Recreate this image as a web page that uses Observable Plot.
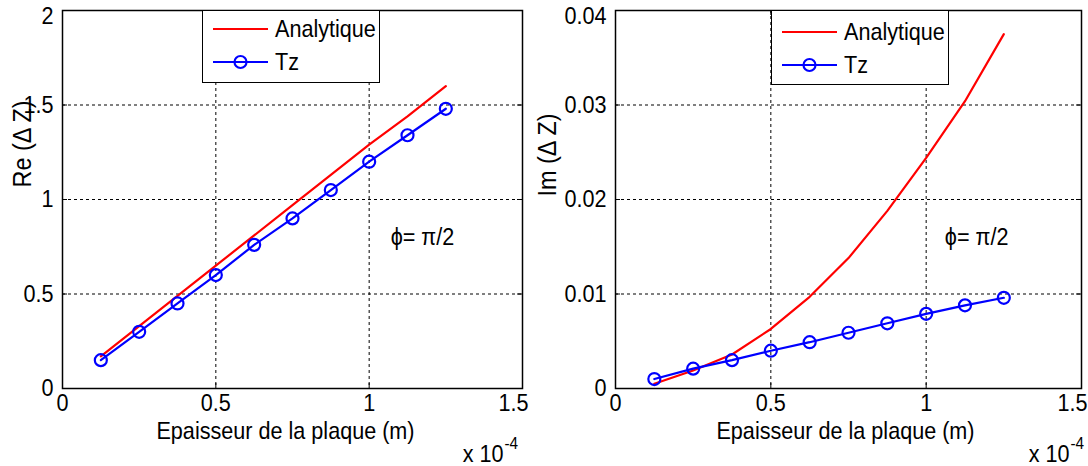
<!DOCTYPE html>
<html>
<head>
<meta charset="utf-8">
<script src="https://cdn.jsdelivr.net/npm/d3@7"></script>
<script src="https://cdn.jsdelivr.net/npm/@observablehq/plot@0.6"></script>
<style>
  html, body { margin: 0; padding: 0; background: #fff; }
  #wrap { position: relative; width: 1088px; height: 466px; overflow: hidden; display: flex; }
  #wrap svg { display: block; }
  .legend { position: absolute; background: #fff; border: 1px solid #000; box-sizing: border-box; }
</style>
</head>
<body>
<div id="wrap"></div>
<script>
// ---- data (thickness in metres) ----
const thickness = [1.25e-5, 2.5e-5, 3.75e-5, 5e-5, 6.25e-5, 7.5e-5, 8.75e-5, 1e-4, 1.125e-4, 1.25e-4];
const reAnalytique = [0.17, 0.33, 0.49, 0.65, 0.81, 0.97, 1.13, 1.29, 1.44, 1.60];
const reTz = [0.15, 0.30, 0.45, 0.60, 0.76, 0.90, 1.05, 1.20, 1.34, 1.48];
const imAnalytique = [0.0005, 0.0019, 0.0036, 0.0063, 0.0097, 0.0138, 0.0188, 0.0244, 0.0304, 0.0375];
const imTz = [0.0010, 0.0021, 0.0030, 0.0040, 0.0049, 0.0059, 0.0069, 0.0079, 0.0088, 0.0096];
const seriesNames = ["Analytique", "Tz"];
const xTicks = [0, 0.5, 1, 1.5];        // in units of 1e-4 m
const reTicks = [0, 0.5, 1, 1.5, 2];
const imTicks = [0, 0.01, 0.02, 0.03, 0.04];
const xLabel = "Epaisseur de la plaque (m)";
const xExpBase = "x 10";
const xExp = "-4";
const reLabel = "Re (Δ Z)";
const imLabel = "Im (Δ Z)";
const annotation = "ϕ= π/2";

const FONT = '"Liberation Sans", Arial, sans-serif';
const FS = 24;          // font size, horizontally condensed below
const SQUEEZE = 0.9;
const RED = "#ff0000", BLUE = "#0000ff";
const H = 466, MT = 10, MB = 78;

// compress every text horizontally around its own anchor (tall, narrow MATLAB-like glyphs)
function condense(root, k) {
  root.querySelectorAll("text").forEach(t => {
    const ax = parseFloat(t.getAttribute("x")) || 0;
    const ay = parseFloat(t.getAttribute("y")) || 0;
    const tr = t.getAttribute("transform") || "";
    t.setAttribute("transform", `${tr} translate(${ax},${ay}) scale(${k},1) translate(${-ax},${-ay})`.trim());
  });
}

function panel(o) {
  const W = 544;
  const plotW = W - o.ml - o.mr, plotH = H - MT - MB;
  const an = thickness.map((t, i) => ({x: t * 1e4, y: o.an[i]}));
  const tz = thickness.map((t, i) => ({x: t * 1e4, y: o.tz[i]}));
  const inner = (a) => a.slice(1, -1);
  const yLast = o.ticks[o.ticks.length - 1];
  const xLast = xTicks[xTicks.length - 1];
  const grid = {stroke: "black", strokeWidth: 1, strokeDasharray: "3,3"};
  const tk = {stroke: "black", strokeWidth: 1};
  const svg = Plot.plot({
    width: W, height: H,
    marginTop: MT, marginBottom: MB, marginLeft: o.ml, marginRight: o.mr,
    style: {fontFamily: FONT, fontSize: FS + "px", background: "white", color: "black", overflow: "visible"},
    x: {domain: [0, xLast]},
    y: {domain: [o.ticks[0], yLast]},
    marks: [
      Plot.ruleX(inner(xTicks), grid),
      Plot.ruleY(inner(o.ticks), grid),
      Plot.ruleX(xTicks, {...tk, insetTop: plotH - 5}),
      Plot.ruleX(xTicks, {...tk, insetBottom: plotH - 5}),
      Plot.ruleY(o.ticks, {...tk, insetRight: plotW - 5}),
      Plot.ruleY(o.ticks, {...tk, insetLeft: plotW - 5}),
      Plot.frame({stroke: "black", strokeWidth: 1.5}),
      Plot.axisX({ticks: xTicks.slice(0, -1), tickSize: 0, tickPadding: 5, label: null, tickFormat: d => String(d), fontSize: FS}),
      Plot.axisX({ticks: [xLast], tickSize: 0, tickPadding: 5, label: null, tickFormat: d => String(d), fontSize: FS, dx: -9}),
      Plot.axisY({ticks: o.ticks.slice(0, -1), tickSize: 0, tickPadding: 9, label: null, tickFormat: d => String(d), fontSize: FS}),
      Plot.axisY({ticks: [yLast], tickSize: 0, tickPadding: 9, label: null, tickFormat: d => String(d), fontSize: FS, dy: 6}),
      Plot.line(an, {x: "x", y: "y", stroke: RED, strokeWidth: 2.2}),
      Plot.line(tz, {x: "x", y: "y", stroke: BLUE, strokeWidth: 2.2}),
      Plot.dot(tz, {x: "x", y: "y", r: 6, stroke: BLUE, strokeWidth: 2.2, fill: "none"}),
      Plot.text([annotation], {x: () => o.annX, y: () => o.annY, text: d => d, textAnchor: "start", lineAnchor: "middle", fontSize: FS}),
      Plot.text([xLabel], {frameAnchor: "bottom", text: d => d, lineAnchor: "middle", dy: 43, dx: o.xlDx, fontSize: FS}),
      Plot.text([xExpBase], {frameAnchor: "bottom-right", text: d => d, textAnchor: "end", lineAnchor: "middle", dy: 66, dx: o.expDx, fontSize: FS}),
      Plot.text([xExp], {frameAnchor: "bottom-right", text: d => d, textAnchor: "start", lineAnchor: "middle", dy: 55, dx: o.expDx + 1, fontSize: 17}),
      Plot.text([o.ylabel], {frameAnchor: "left", text: d => d, rotate: -90, lineAnchor: "middle", dx: o.ylDx, dy: o.ylDy, fontSize: 26})
    ]
  });
  condense(svg, SQUEEZE);
  return svg;
}

const wrap = document.getElementById("wrap");
wrap.appendChild(panel({an: reAnalytique, tz: reTz, ticks: reTicks, ml: 62, mr: 22,
  annX: 1.07, annY: 0.80, xlDx: -7, expDx: -19, ylabel: reLabel, ylDx: -40, ylDy: -12}));
wrap.appendChild(panel({an: imAnalytique, tz: imTz, ticks: imTicks, ml: 71, mr: 7,
  annX: 1.06, annY: 0.016, xlDx: -3, expDx: -12, ylabel: imLabel, ylDx: -68, ylDy: -3}));

function legend(left, top, w, h, y1, y2) {
  const div = document.createElement("div");
  div.className = "legend";
  Object.assign(div.style, {left: left + "px", top: top + "px", width: w + "px", height: h + "px"});
  const svg = d3.create("svg").attr("width", w - 2).attr("height", h - 2)
    .style("font-family", FONT).style("font-size", FS + "px");
  const ys = [y1, y2], cols = [RED, BLUE];
  seriesNames.forEach((name, i) => {
    svg.append("line").attr("x1", 10).attr("x2", 65).attr("y1", ys[i]).attr("y2", ys[i])
      .attr("stroke", cols[i]).attr("stroke-width", 2.2);
    if (i === 1) svg.append("circle").attr("cx", 37.5).attr("cy", ys[i]).attr("r", 6)
      .attr("fill", "none").attr("stroke", BLUE).attr("stroke-width", 2.2);
    svg.append("text").attr("x", 72).attr("y", ys[i]).attr("dy", "0.35em").text(name);
  });
  condense(svg.node(), SQUEEZE);
  div.appendChild(svg.node());
  wrap.appendChild(div);
}
legend(202, 10, 178, 73, 18, 51);
legend(771, 10, 178, 75, 21, 54);
</script>
</body>
</html>
